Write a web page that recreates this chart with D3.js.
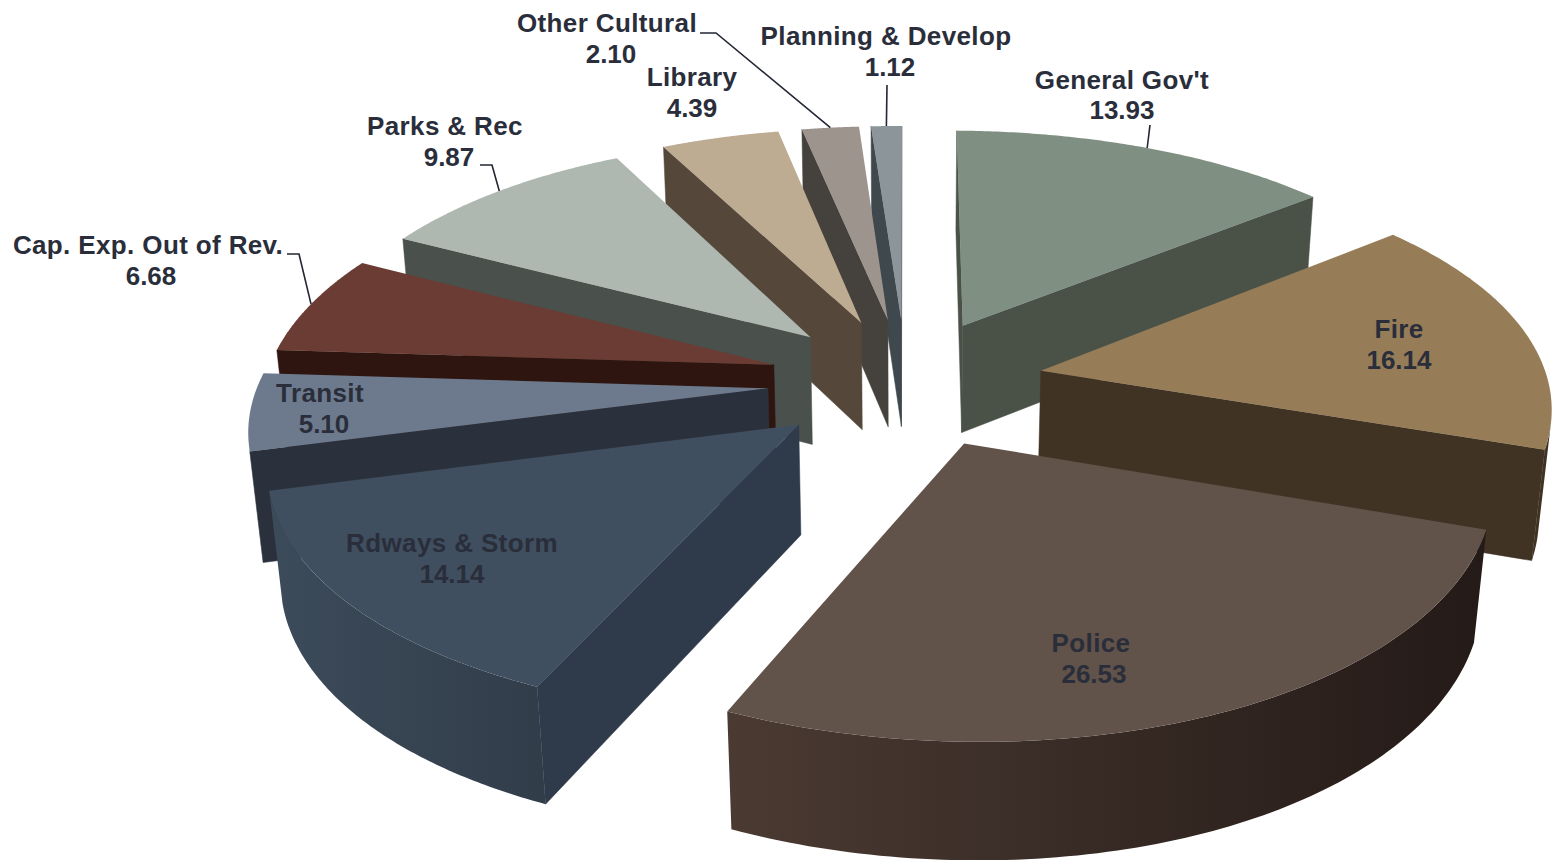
<!DOCTYPE html>
<html>
<head>
<meta charset="utf-8">
<title>Budget share by department</title>
<script src="https://cdn.jsdelivr.net/npm/d3@7"></script>
<style>
  html, body { margin: 0; padding: 0; background: #fff; }
  svg { display: block; }
  text { font-family: "Liberation Sans", Arial, sans-serif; font-weight: 700; font-size: 26px; fill: #2a2e3b; }
</style>
</head>
<body>
<svg id="chart" width="1553" height="860"><defs></defs></svg>
<script>
// Department shares, clockwise from twelve o'clock
const departments = ["General Gov't", "Fire", "Police", "Rdways & Storm", "Transit",
  "Cap. Exp. Out of Rev.", "Parks & Rec", "Library", "Other Cultural", "Planning & Develop"];
const shares = [13.93, 16.14, 26.53, 14.14, 5.10, 6.68, 9.87, 4.39, 2.10, 1.12];

// Face colours per department
const topColors = ["#7f8f82", "#977d57", "#61524a", "#404f60", "#6d7a8d", "#6a3c33", "#aeb8b0", "#bdab92", "#9d948e", "#8c959a"];
const cutColors = ["#4a5248", "#413324", "#2c211c", "#2f3b4a", "#2b313c", "#2e150f", "#4a504c", "#55483b", "#45413c", "#3f484c"];
const wallStart = ["#4a5248", "#413324", "#241a17", "#323d4a", "#2f3a47", "#2e150f", "#4a504c", "#55483b", "#45413c", "#3f484c"];
const wallEnd   = ["#4a5248", "#413324", "#4a3a32", "#3c4b5a", "#2f3a47", "#2e150f", "#4a504c", "#55483b", "#45413c", "#3f484c"];

// Label text lines: [text, centre x, baseline y]
const labelLines = [
  ["General Gov't", 1122, 89], ["13.93", 1122, 119],
  ["Fire", 1399, 338], ["16.14", 1399, 369],
  ["Police", 1091, 652], ["26.53", 1094, 683],
  ["Rdways & Storm", 452, 552], ["14.14", 452, 583],
  ["Transit", 320, 402], ["5.10", 324, 433],
  ["Cap. Exp. Out of Rev.", 148, 254], ["6.68", 151, 285],
  ["Parks & Rec", 445, 135], ["9.87", 449, 166],
  ["Library", 692, 86], ["4.39", 692, 117],
  ["Other Cultural", 607, 32], ["2.10", 611, 63],
  ["Planning & Develop", 886, 45], ["1.12", 890, 76]
];

// Leader lines: department index and the elbow points ahead of the slice rim
const leaders = [
  { slice: 0, elbow: [[1150, 125]] },
  { slice: 5, elbow: [[287, 254], [299, 254]] },
  { slice: 6, elbow: [[480, 165], [492, 165]] },
  { slice: 8, elbow: [[700, 33], [716, 33]] },
  { slice: 9, elbow: [[887, 85]] }
];

// Perspective camera constants
const camera = { cx: 906, cy: 382, scaleX: 508, scaleY: 237.3, depth: 112,
                 persX: 0.1345, persX2: 0.0075, persY: 0.1409,
                 sinkX: 0.02, sinkY: 0.03, roll: 0.005, skew: 6 };
const explode = 0.272;
const wallSteps = 96;

// Ground-plane coordinates (unit radius, y toward the viewer) to screen; z = 0 top, 1 bottom
function project(p, z) {
  const c = camera;
  const wx = 1 - c.persX * p.y - c.persX2 * p.y * p.y + c.sinkX * z;
  const wy = 1 - c.persY * p.y + c.sinkY * z;
  const dx = c.scaleX * p.x / wx;
  return [c.cx + dx - c.skew * p.y * p.x * p.x, c.cy + (c.scaleY * p.y + c.depth * z) / wy + c.roll * dx];
}

const svg = d3.select("#chart");
const defs = svg.select("defs");
const pathOf = d3.line().curve(d3.curveLinearClosed);

const arcs = d3.pie().sort(null).value(d => d)(shares).map((d, i) => {
  const mid = (d.startAngle + d.endAngle) / 2;
  const apex = { x: explode * Math.sin(mid), y: -explode * Math.cos(mid) };
  const rim = a => ({ x: apex.x + Math.sin(a), y: apex.y - Math.cos(a) });
  return { i, start: d.startAngle, end: d.endAngle, mid, apex, rim };
});

function drawSlice(s) {
  const angles = d3.range(wallSteps + 1).map(k => s.start + (s.end - s.start) * k / wallSteps);
  const rimPts = angles.map(s.rim);
  const topPoly = [project(s.apex, 0), ...rimPts.map(p => project(p, 0))];
  const facing = Math.sign(d3.polygonArea(topPoly));
  const isFront = poly => Math.sign(d3.polygonArea(poly)) === facing;

  const g = svg.append("g").attr("class", "slice");
  const face = (poly, fill) => {
    if (!isFront(poly)) return;
    g.append("path").attr("d", pathOf(poly)).attr("fill", fill)
      .attr("stroke", fill).attr("stroke-width", 0.5).attr("stroke-linejoin", "round");
  };

  const first = rimPts[0], last = rimPts[wallSteps];
  face([project(first, 0), project(s.apex, 0), project(s.apex, 1), project(first, 1)], cutColors[s.i]);
  face([project(s.apex, 0), project(last, 0), project(last, 1), project(s.apex, 1)], cutColors[s.i]);

  // The curved wall is one shape covering the rim segments that face the camera
  const visible = d3.range(wallSteps).filter(k => {
    const a = rimPts[k], b = rimPts[k + 1];
    return isFront([project(b, 0), project(a, 0), project(a, 1), project(b, 1)]);
  });
  if (visible.length) {
    const ids = [...visible, visible[visible.length - 1] + 1];
    const tops = ids.map(k => project(rimPts[k], 0));
    const bottoms = ids.map(k => project(rimPts[k], 1));
    const id = "wall-" + s.i;
    const grad = defs.append("linearGradient").attr("id", id)
      .attr("gradientUnits", "userSpaceOnUse")
      .attr("x1", project(first, 0)[0]).attr("y1", 0)
      .attr("x2", project(last, 0)[0]).attr("y2", 0);
    grad.append("stop").attr("offset", 0).attr("stop-color", wallStart[s.i]);
    grad.append("stop").attr("offset", 1).attr("stop-color", wallEnd[s.i]);
    g.append("path").attr("d", pathOf([...tops, ...bottoms.reverse()])).attr("fill", `url(#${id})`);
  }

  g.append("path").attr("d", pathOf(topPoly)).attr("fill", topColors[s.i]);
}

// Painter's order: farthest slices first
arcs.slice().sort((a, b) => a.apex.y - b.apex.y).forEach(drawSlice);

// Leader lines end on the rim at each slice's middle angle
svg.append("g").selectAll("path").data(leaders).join("path")
  .attr("fill", "none").attr("stroke", "#232733").attr("stroke-width", 1.6)
  .attr("d", d => d3.line()([...d.elbow, project(arcs[d.slice].rim(arcs[d.slice].mid), 0)]));

// Names run slightly wider than the figures beneath them
svg.append("g").selectAll("text").data(labelLines).join("text")
  .attr("text-anchor", "middle")
  .attr("letter-spacing", d => isNaN(+d[0]) ? 0.37 : 0)
  .attr("x", d => d[1]).attr("y", d => d[2]).text(d => d[0]);
</script>
</body>
</html>
